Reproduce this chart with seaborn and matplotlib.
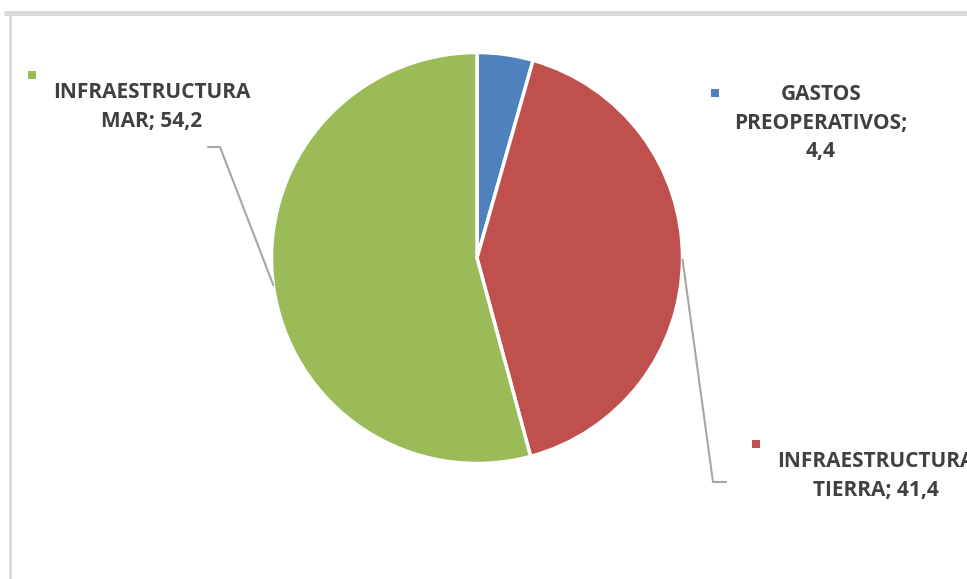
import numpy as np
import matplotlib.pyplot as plt
import seaborn as sns

# datos
categorias = ['GASTOS\nPREOPERATIVOS;\n4,4', 'INFRAESTRUCTURA\nTIERRA; 41,4', 'INFRAESTRUCTURA\nMAR; 54,2']
valores = [4.4, 41.4, 54.2]
colores = ['#4F81BD', '#C0504D', '#9BBB59']

sns.set_style('white')
plt.rcParams['font.family'] = ['Open Sans', 'DejaVu Sans']

W, H = 967, 579
fig = plt.figure(figsize=(W / 100, H / 100), dpi=100)
ax = fig.add_axes([0, 0, 1, 1])

def py(y):
    # pixel desde arriba -> coordenada del eje
    return H - y

cx, cy, r = 477, py(258), 205.5
wedges, _ = ax.pie(valores, colors=colores, startangle=90, counterclock=False,
                   center=(cx, cy), radius=r, frame=True,
                   wedgeprops=dict(edgecolor='white', linewidth=2.5))
ax.set_xlim(0, W)
ax.set_ylim(0, H)
ax.axis('off')

# marco gris
ax.plot([4, W], [py(13), py(13)], color='#d9d9d9', lw=3.5, solid_capstyle='butt')
ax.plot([9.5, 9.5], [py(14), py(H)], color='#d9d9d9', lw=2, solid_capstyle='butt')

# etiquetas: (centro x, centro y del bloque, marcador x, marcador y)
pos_etiquetas = [(821, 123, 715, 93), (876, 476, 756, 444), (152, 107, 32, 75)]
gris = '#404040'
for w, txt, col, (tx, ty, mx, my) in zip(wedges, categorias, colores, pos_etiquetas):
    ax.text(tx, py(ty), txt, ha='center', va='center', fontsize=15, fontweight='bold',
            color=gris, linespacing=1.5, clip_on=False)
    ax.scatter([mx], [py(my)], marker='s', s=40, color=col, linewidths=0)

# lineas guia desde el borde de las porciones
gl = '#a6a6a6'
for i, quiebre in [(1, [(713, 482), (726, 482)]), (2, [(220, 147), (208, 147)])]:
    w = wedges[i]
    ang = np.deg2rad((w.theta1 + w.theta2) / 2)
    x0 = cx + r * np.cos(ang)
    y0 = cy + r * np.sin(ang)
    xs = [x0] + [p[0] for p in quiebre]
    ys = [y0] + [py(p[1]) for p in quiebre]
    ax.plot(xs, ys, color=gl, lw=1.5)

plt.savefig('out.png', dpi=100)
